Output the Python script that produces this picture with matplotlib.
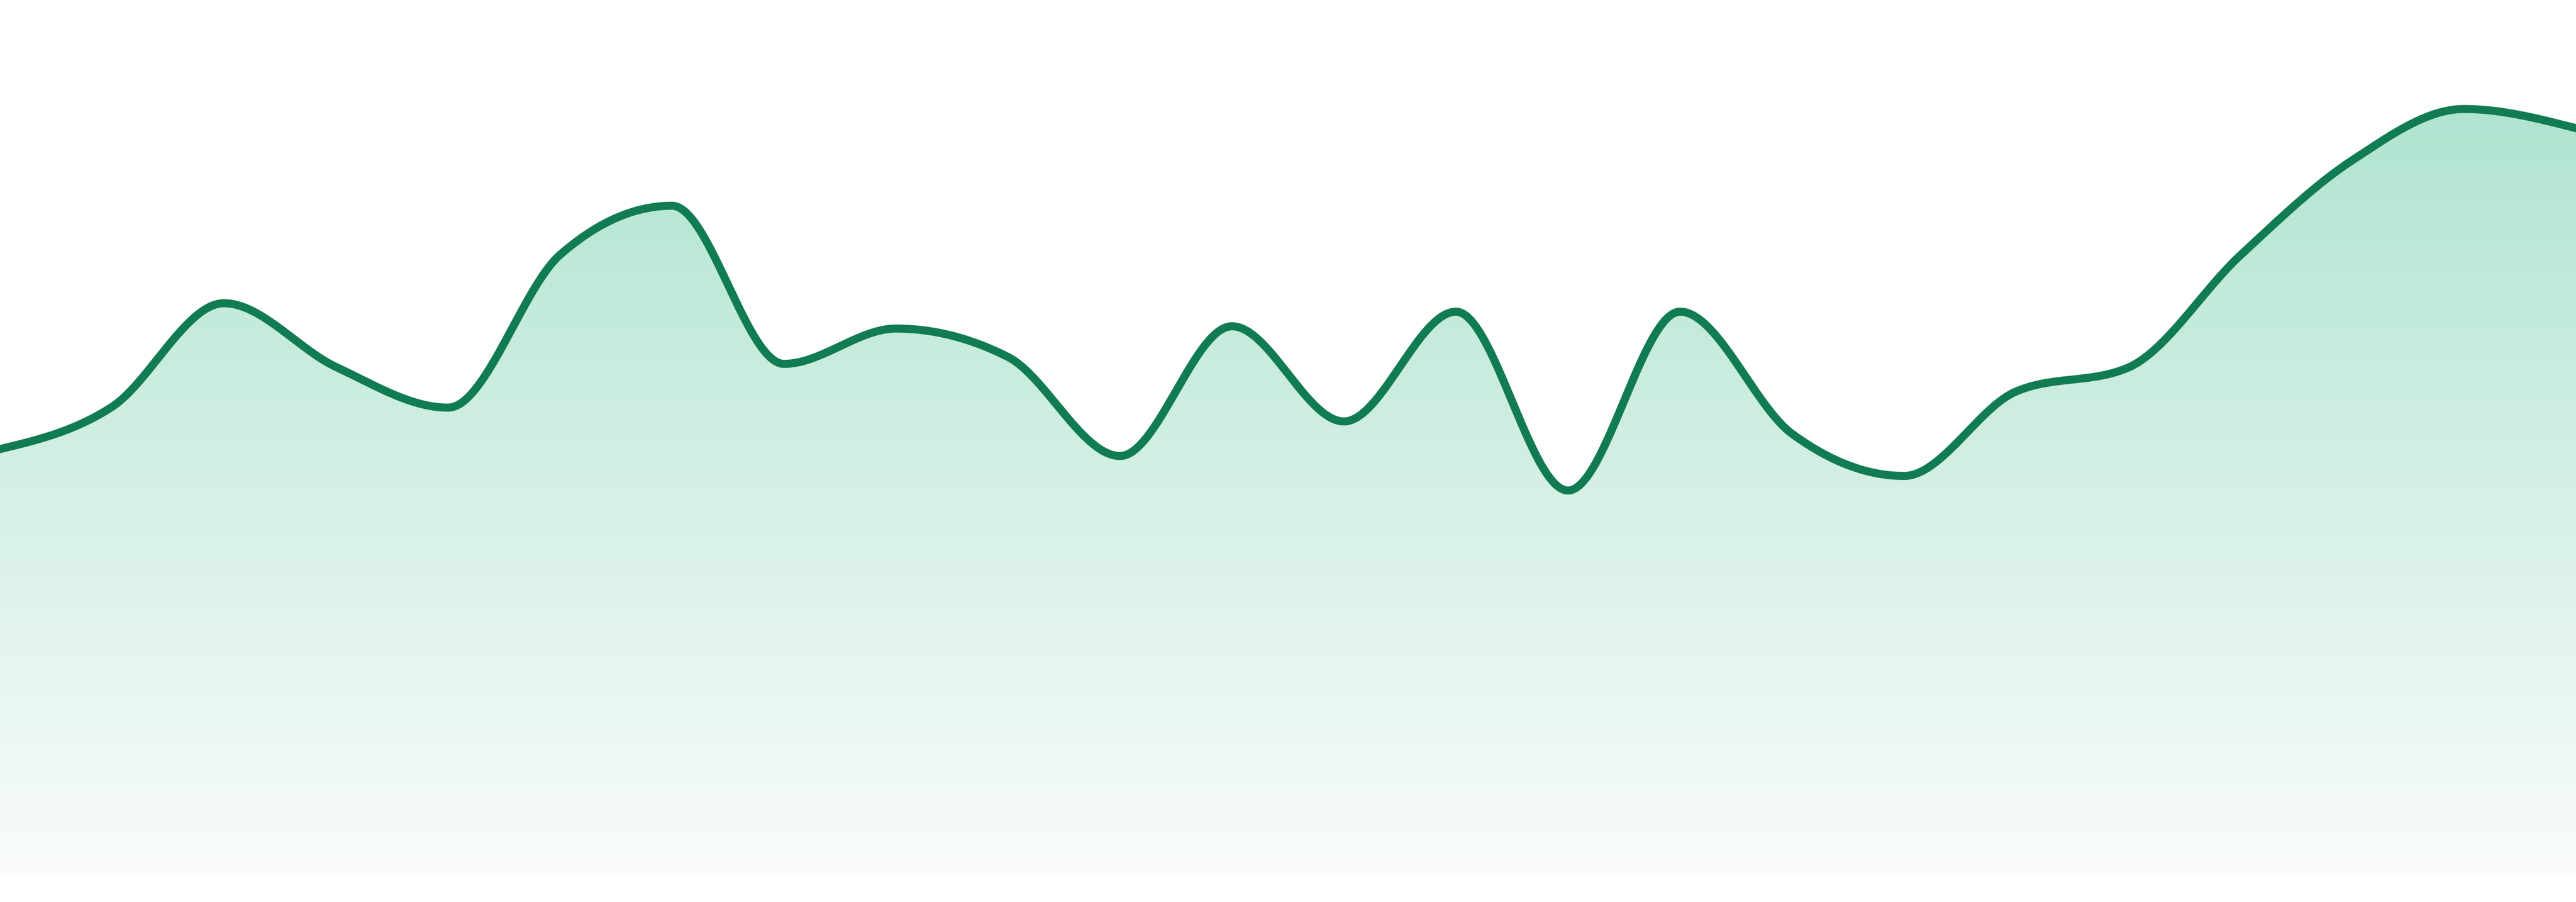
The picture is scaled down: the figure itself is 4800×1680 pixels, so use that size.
import numpy as np
import matplotlib
matplotlib.use("Agg")
from matplotlib import pyplot as plt
from matplotlib.colors import LinearSegmentedColormap

# data (24 evenly spaced points)
points = list(range(24))
values = [55.5, 61.0, 74.5, 66.2, 60.9, 80.8, 87.2, 66.6, 71.2, 67.5, 54.6, 71.5,
          59.1, 73.4, 50.1, 73.4, 57.5, 52.0, 63.0, 66.1, 80.7, 93.1, 99.8, 97.3]

line_color = "#117b52"
fill_top = (176/255, 228/255, 208/255)
fill_bottom = (250/255, 252/255, 251/255)


def monotone_x(x, y, n=60):
    # same idea as d3.curveMonotoneX (Steffen slopes + cubic hermite)
    x = np.asarray(x, float)
    y = np.asarray(y, float)
    h = np.diff(x)
    s = np.diff(y) / h
    t = np.zeros(len(x))
    for i in range(1, len(x) - 1):
        s0, s1 = s[i - 1], s[i]
        p = (s0 * h[i] + s1 * h[i - 1]) / (h[i - 1] + h[i])
        t[i] = (np.sign(s0) + np.sign(s1)) * min(abs(s0), abs(s1), 0.5 * abs(p))
    t[0] = (3 * s[0] - t[1]) / 2
    t[-1] = (3 * s[-1] - t[-2]) / 2
    xs, ys = [], []
    for i in range(len(x) - 1):
        u = np.linspace(0, 1, n, endpoint=(i == len(x) - 2))
        h00 = 2 * u**3 - 3 * u**2 + 1
        h10 = u**3 - 2 * u**2 + u
        h01 = -2 * u**3 + 3 * u**2
        h11 = u**3 - u**2
        xs.append(x[i] + u * h[i])
        ys.append(h00 * y[i] + h10 * h[i] * t[i] + h01 * y[i + 1] + h11 * h[i] * t[i + 1])
    return np.concatenate(xs), np.concatenate(ys)


xs, ys = monotone_x(points, values)

fig = plt.figure(figsize=(16, 5.6), dpi=300)
ax = fig.add_axes([0, 0, 1, 1])
ax.set_xlim(points[0], points[-1])
ax.set_ylim(-3.5, 114)
ax.axis("off")

# gradient fill under the curve
poly = ax.fill_between(xs, ys, 0, facecolor="none", edgecolor="none")
cmap = LinearSegmentedColormap.from_list("fade", [fill_bottom, fill_top])
grad = np.linspace(0, 1, 256).reshape(-1, 1)
im = ax.imshow(grad, extent=[points[0], points[-1], 0, 100], origin="lower",
               aspect="auto", cmap=cmap, interpolation="bilinear", zorder=1)
im.set_clip_path(poly.get_paths()[0], transform=ax.transData)

ax.plot(xs, ys, color=line_color, lw=3.6, solid_joinstyle="round", zorder=3)

fig.savefig("out.png", dpi=300, facecolor="white")
